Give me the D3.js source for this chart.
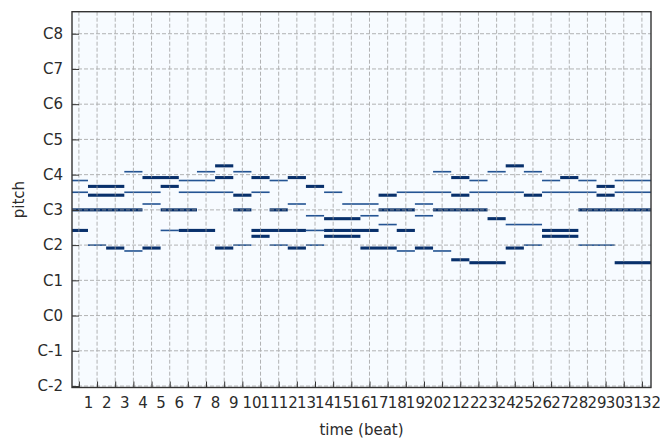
<!DOCTYPE html>
<html>
<head>
<meta charset="utf-8">
<script src="https://cdn.jsdelivr.net/npm/d3@7"></script>
<style>
  html, body { margin: 0; padding: 0; background: #ffffff; }
  svg { display: block; }
  text { font-family: "DejaVu Sans", sans-serif; fill: #2b2b2b; }
</style>
</head>
<body>
<svg id="chart" width="660" height="439"></svg>
<script>
// Piano-roll notes: onset / offset in beats, MIDI pitch, velocity
const noteStart = [0,1,1,0,3,0,3,4,5,4,5,6,5,6,1,2,3,4,0,8,7,9,8,10,6,9,9,9,8,10,
                   12,11,10,13,14,12,15,17,18,11,17,20,19,13,16,19,14,17,14,18,13,10,14,11,13,12,16,19,18,20,
                   20,23,25,24,21,27,22,26,28,30,29,22,26,30,21,25,29,28,23,24,26,26,25,28,24,21,22,30];
const noteEnd   = [1,3,3,1,5,4,4,6,6,5,7,8,6,8,2,3,4,5,1,9,8,10,9,11,9,10,10,10,9,13,
                   13,12,11,14,15,13,17,18,21,12,19,23,20,14,17,20,16,18,17,19,14,11,16,12,14,13,18,20,19,21,
                   21,24,26,25,22,28,23,27,29,32,30,25,29,32,22,26,30,32,24,26,28,28,26,30,25,22,24,32];
const notePitch = [70,68,65,66,66,60,73,71,68,62,60,70,53,53,48,47,46,47,53,75,73,73,71,71,66,65,60,48,47,53,
                   71,70,66,68,66,62,62,65,66,60,60,60,62,58,58,58,57,55,53,53,53,51,51,48,48,47,47,47,46,46,
                   73,73,73,75,71,71,70,70,70,70,68,66,66,66,65,65,65,60,57,55,53,51,48,48,47,43,42,42];
const noteVelocity = [60,100,100,60,60,100,60,100,100,60,100,60,60,100,60,100,60,100,100,100,60,60,100,100,60,100,100,60,100,100,
                      100,60,60,100,60,60,60,100,60,100,100,100,60,60,60,60,100,60,100,100,60,100,100,60,60,100,100,100,60,60,
                      60,60,60,100,100,100,60,60,60,60,100,60,60,60,100,100,100,100,100,60,100,100,60,60,100,100,100,100];

// Axis ticks
const beatLabels = d3.range(1, 33);
const beatGrid = d3.range(1, 33).map(b => b - 0.5);
const pitchTicks = d3.range(0, 121, 12);
const pitchLabels = ["C-2","C-1","C0","C1","C2","C3","C4","C5","C6","C7","C8"];

const svg = d3.select("#chart");
const plotLeft = 72, plotRight = 651, plotTop = 11.7, plotBottom = 387.5;

const x = d3.scaleLinear().domain([0.12, 32]).range([plotLeft, plotRight]);
const y = d3.scaleLinear().domain([-0.5, 127.5]).range([plotBottom, plotTop]);

const noteColor = d3.scaleThreshold().domain([80]).range(["#245493", "#08306b"]);
const noteHeight = d3.scaleThreshold().domain([80]).range([0.55, 1.05]);

const notes = noteStart.map((s, i) => ({
  s, e: noteEnd[i], p: notePitch[i], v: noteVelocity[i]
}));

svg.append("defs").append("clipPath").attr("id", "plot-clip")
  .append("rect").attr("x", plotLeft).attr("y", plotTop)
  .attr("width", plotRight - plotLeft).attr("height", plotBottom - plotTop);

// background of the roll (lowest value of the Blues map)
svg.append("rect")
  .attr("x", plotLeft).attr("y", plotTop)
  .attr("width", plotRight - plotLeft).attr("height", plotBottom - plotTop)
  .attr("fill", "#f7fbff");

const plot = svg.append("g").attr("clip-path", "url(#plot-clip)");

// notes
plot.append("g").selectAll("rect").data(notes).join("rect")
  .attr("x", d => x(Math.max(d.s, 0.12)))
  .attr("width", d => x(d.e) - x(Math.max(d.s, 0.12)))
  .attr("y", d => y(d.p) - (noteHeight(d.v) * (y(0) - y(1))) / 2)
  .attr("height", d => noteHeight(d.v) * (y(0) - y(1)))
  .attr("fill", d => noteColor(d.v));

// dashed grid
const grid = plot.append("g")
  .attr("stroke", "#9a9a9a").attr("stroke-width", 1)
  .attr("stroke-dasharray", "4,2").attr("opacity", 0.75);
grid.selectAll(".gx").data(beatGrid).join("line")
  .attr("x1", d => x(d)).attr("x2", d => x(d))
  .attr("y1", plotTop).attr("y2", plotBottom);
grid.selectAll(".gy").data(pitchTicks).join("line")
  .attr("x1", plotLeft).attr("x2", plotRight)
  .attr("y1", d => y(d)).attr("y2", d => y(d));

// x axis: inward ticks on beat boundaries, labels on beats
const xAxis = d3.axisBottom(x).tickValues(beatGrid).tickSize(-6).tickFormat("");
const gx = svg.append("g").attr("transform", `translate(0,${plotBottom})`).call(xAxis);
gx.select(".domain").remove();
gx.selectAll(".tick line").attr("stroke", "#333");

const xLab = d3.axisBottom(x).tickValues(beatLabels).tickSize(0).tickPadding(10).tickFormat(d => d);
const gxl = svg.append("g").attr("transform", `translate(0,${plotBottom})`).call(xLab);
gxl.select(".domain").remove();
gxl.selectAll("text").attr("font-size", 15).attr("font-family", "DejaVu Sans").attr("fill", "#2b2b2b");

// y axis
const yAxis = d3.axisLeft(y).tickValues(pitchTicks).tickSize(-7).tickPadding(9)
  .tickFormat((d, i) => pitchLabels[i]);
const gy = svg.append("g").attr("transform", `translate(${plotLeft},0)`).call(yAxis);
gy.select(".domain").remove();
gy.selectAll(".tick line").attr("stroke", "#333");
gy.selectAll("text").attr("font-size", 15).attr("font-family", "DejaVu Sans").attr("fill", "#2b2b2b");

// frame
svg.append("rect")
  .attr("x", plotLeft).attr("y", plotTop)
  .attr("width", plotRight - plotLeft).attr("height", plotBottom - plotTop)
  .attr("fill", "none").attr("stroke", "#333").attr("stroke-width", 1.4);

// axis titles
svg.append("text")
  .attr("x", (plotLeft + plotRight) / 2).attr("y", 435)
  .attr("text-anchor", "middle").attr("font-size", 15)
  .text("time (beat)");
svg.append("text")
  .attr("transform", `translate(24,${(plotTop + plotBottom) / 2}) rotate(-90)`)
  .attr("text-anchor", "middle").attr("font-size", 15)
  .text("pitch");
</script>
</body>
</html>
